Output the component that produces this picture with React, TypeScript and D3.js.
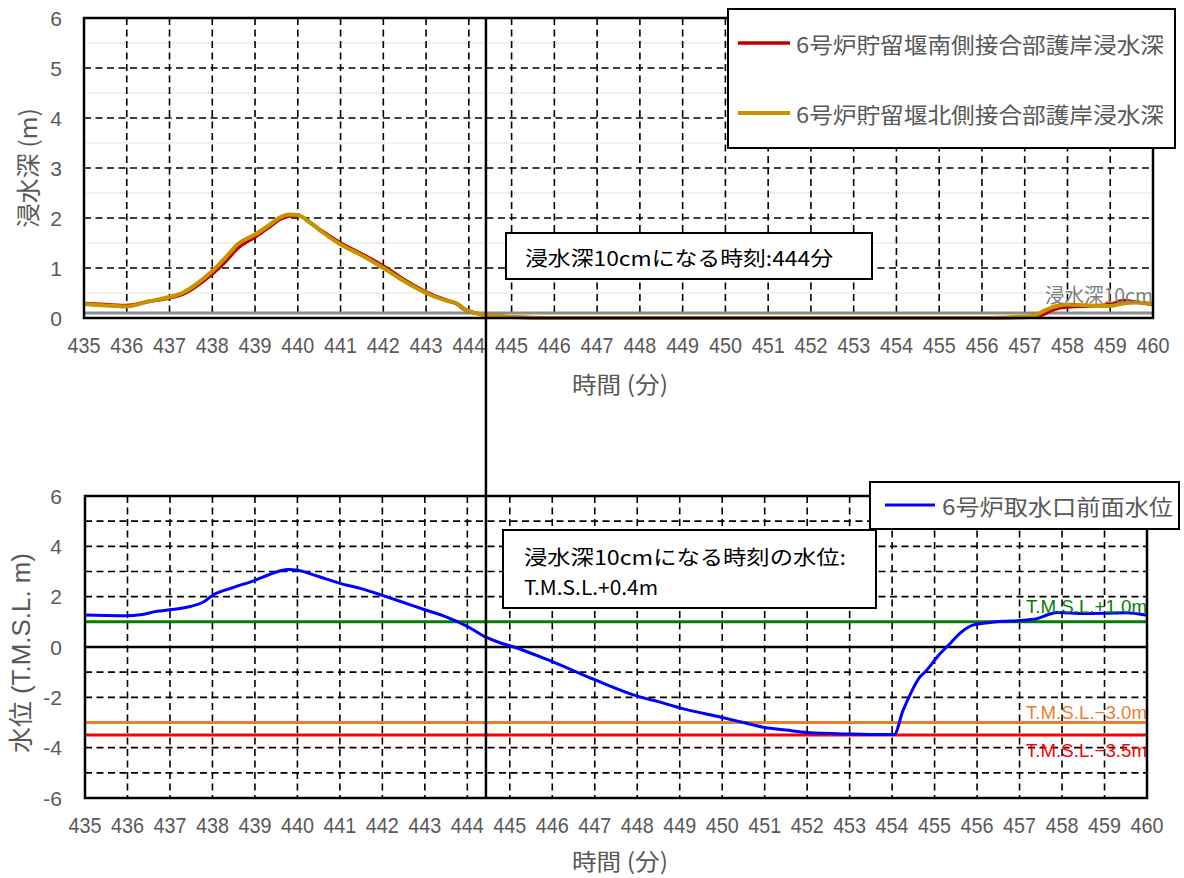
import * as d3 from "d3";

// top chart: flooding depth (m) at the two revetment junctions
const depthTime = [
  435, 435.5, 436, 436.5, 437, 437.3, 437.6, 438, 438.3, 438.6, 439, 439.3, 439.6, 439.8, 440,
  440.3, 440.6, 441, 441.5, 442, 442.5, 443, 443.5, 443.7, 443.9, 444.2, 444.5, 445, 446, 450,
  454, 456, 456.8, 457.2, 457.4, 457.6, 457.8, 458, 458.5, 459, 459.3, 459.6, 460,
];
const southDepth = [
  0.29, 0.27, 0.25, 0.33, 0.4, 0.47, 0.62, 0.88, 1.12, 1.4, 1.62, 1.8, 1.98, 2.04, 2.05,
  1.9, 1.72, 1.5, 1.28, 1.04, 0.76, 0.52, 0.35, 0.29, 0.17, 0.09, 0.05, 0.02, 0, 0,
  0, 0, 0.01, 0.02, 0.06, 0.14, 0.2, 0.22, 0.24, 0.27, 0.35, 0.32, 0.27,
];
const northDepth = [
  0.28, 0.25, 0.23, 0.33, 0.42, 0.5, 0.66, 0.94, 1.2, 1.48, 1.67, 1.84, 2.02, 2.07, 2.06,
  1.9, 1.7, 1.47, 1.25, 1.0, 0.73, 0.5, 0.34, 0.3, 0.18, 0.09, 0.05, 0.02, 0, 0,
  0, 0, 0.02, 0.04, 0.12, 0.2, 0.25, 0.27, 0.25, 0.24, 0.29, 0.31, 0.28,
];

// bottom chart: water level in front of the intake (T.M.S.L. m)
const levelTime = [
  435, 435.5, 436, 436.3, 436.7, 437, 437.5, 437.8, 438, 438.5, 439, 439.3, 439.6, 439.8, 440,
  440.5, 441, 441.5, 442, 442.5, 443, 443.5, 444, 444.4, 444.8, 445, 446, 447, 448, 448.6,
  449, 450, 450.5, 451, 451.5, 452, 453, 454.05, 454.25, 454.45, 454.65, 454.8, 455.1, 455.4,
  455.6, 455.9, 456.3, 456.6, 457, 457.4, 457.7, 457.9, 458.5, 459, 459.5, 460,
];
const intakeLevel = [
  1.27, 1.25, 1.24, 1.28, 1.42, 1.48, 1.62, 1.8, 2.05, 2.37, 2.65, 2.85, 3.03, 3.08, 3.05,
  2.8, 2.53, 2.32, 2.05, 1.77, 1.48, 1.2, 0.82, 0.42, 0.15, 0.05, -0.58, -1.3, -1.95, -2.22,
  -2.42, -2.8, -3.0, -3.2, -3.3, -3.4, -3.46, -3.48, -2.55, -1.8, -1.2, -0.95, -0.32, 0.2,
  0.55, 0.87, 0.97, 1.02, 1.05, 1.12, 1.3, 1.37, 1.33, 1.34, 1.36, 1.26,
];

const xTicks = d3.range(435, 461);
const depthTicks = [0, 1, 2, 3, 4, 5, 6];
const depthMinor = [0.5, 1.5, 2.5, 3.5, 4.5, 5.5];
const levelGrid = d3.range(-6, 7);
const levelTicks = [-6, -4, -2, 0, 2, 4, 6];

const thresholdDepth = 0.1;
const crossTime = 444.4;
const refLevels = [
  { v: 1.0, label: "T.M.S.L.+1.0m", color: "#008000", dy: -15 },
  { v: -3.0, label: "T.M.S.L.−3.0m", color: "#ED7D31", dy: -10 },
  { v: -3.5, label: "T.M.S.L.−3.5m", color: "#FF0000", dy: 15 },
];

const NUM = "'Liberation Sans', 'Noto Sans CJK JP', sans-serif";
const JP = "'Noto Sans CJK JP', sans-serif";
const GRAY = "#595959";
const FIT = "spacingAndGlyphs";

export default function App() {
  const xTop = d3.scaleLinear().domain([435, 460]).range([84, 1153]);
  const yTop = d3.scaleLinear().domain([0, 6]).range([318, 18]);
  const xBot = d3.scaleLinear().domain([435, 460]).range([85, 1147]);
  const yBot = d3.scaleLinear().domain([-6, 6]).range([798, 496]);

  const depthLine = (vals: number[]) =>
    d3
      .line<number>()
      .x((_, i) => xTop(depthTime[i]))
      .y((d) => yTop(d))
      .curve(d3.curveMonotoneX)(vals) ?? "";
  const levelLine =
    d3
      .line<number>()
      .x((_, i) => xBot(levelTime[i]))
      .y((d) => yBot(d))
      .curve(d3.curveMonotoneX)(intakeLevel) ?? "";

  const dash = "7,4.5";

  return (
    <svg width={1184} height={878} style={{ display: "block", position: "absolute", left: 0, top: 0 }}>
      <rect width={1184} height={878} fill="#fff" />

      {/* ---------- top chart ---------- */}
      {depthMinor.map((v) => (
        <line key={"m" + v} x1={xTop(435)} x2={xTop(460)} y1={yTop(v)} y2={yTop(v)}
          stroke="#c8c8c8" strokeWidth={1} strokeDasharray="1,1" />
      ))}
      {depthTicks.slice(1, -1).map((v) => (
        <line key={"h" + v} x1={xTop(435)} x2={xTop(460)} y1={yTop(v)} y2={yTop(v)}
          stroke="#000" strokeWidth={1.6} strokeDasharray={dash} />
      ))}
      {xTicks.slice(1, -1).map((t) => (
        <line key={"v" + t} x1={xTop(t)} x2={xTop(t)} y1={yTop(6)} y2={yTop(0)}
          stroke="#000" strokeWidth={1.6} strokeDasharray={dash} />
      ))}
      <line x1={xTop(435)} x2={xTop(460)} y1={yTop(thresholdDepth)} y2={yTop(thresholdDepth)}
        stroke="#8c8c8c" strokeWidth={3} />
      <path d={depthLine(southDepth)} fill="none" stroke="#C00000" strokeWidth={3.5} strokeLinejoin="round" />
      <path d={depthLine(northDepth)} fill="none" stroke="#C59400" strokeWidth={4} strokeLinejoin="round" />
      <rect x={xTop(435)} y={yTop(6)} width={xTop(460) - xTop(435)} height={yTop(0) - yTop(6)}
        fill="none" stroke="#000" strokeWidth={2.5} />
      <text x={xTop(460)} y={yTop(thresholdDepth) - 19} textAnchor="end" dominantBaseline="central"
        fontFamily={JP} fontSize={20} fill="#808080" textLength={108} lengthAdjust={FIT}>浸水深10cm</text>

      {depthTicks.map((v) => (
        <text key={"yt" + v} x={62} y={yTop(v)} textAnchor="end" dominantBaseline="central"
          fontFamily={NUM} fontSize={21} fill={GRAY}>{v}</text>
      ))}
      {xTicks.map((t) => (
        <text key={"xt" + t} x={xTop(t)} y={345} textAnchor="middle" dominantBaseline="central"
          fontFamily={NUM} fontSize={22} fill={GRAY} textLength={33} lengthAdjust={FIT}>{t}</text>
      ))}
      <text transform="translate(26,168) rotate(-90)" textAnchor="middle" dominantBaseline="central"
        fontFamily={JP} fontSize={24} fill={GRAY} textLength={120} lengthAdjust={FIT}>浸水深 (m)</text>
      <text x={620} y={383} textAnchor="middle" dominantBaseline="central"
        fontFamily={JP} fontSize={23} fill={GRAY} textLength={96} lengthAdjust={FIT}>時間 (分)</text>

      {/* legend top */}
      <rect x={728} y={9} width={447} height={139} fill="#fff" stroke="#000" strokeWidth={2} />
      <line x1={738} x2={790} y1={43} y2={43} stroke="#C00000" strokeWidth={3.5} />
      <text x={796} y={43} dominantBaseline="central" fontFamily={JP} fontSize={22} fill={GRAY}
        textLength={368} lengthAdjust={FIT}>6号炉貯留堰南側接合部護岸浸水深</text>
      <line x1={738} x2={790} y1={113} y2={113} stroke="#C59400" strokeWidth={4} />
      <text x={796} y={113} dominantBaseline="central" fontFamily={JP} fontSize={22} fill={GRAY}
        textLength={368} lengthAdjust={FIT}>6号炉貯留堰北側接合部護岸浸水深</text>

      {/* annotation top */}
      <rect x={506} y={233} width={366} height={46} fill="#fff" stroke="#000" strokeWidth={2} />
      <text x={525} y={257} dominantBaseline="central" fontFamily={JP} fontSize={20} fill="#000"
        textLength={308} lengthAdjust={FIT}>浸水深10cmになる時刻:444分</text>

      {/* ---------- bottom chart ---------- */}
      {levelGrid.slice(1, -1).filter((v) => v !== 0).map((v) => (
        <line key={"bh" + v} x1={xBot(435)} x2={xBot(460)} y1={yBot(v)} y2={yBot(v)}
          stroke="#000" strokeWidth={1.6} strokeDasharray={dash} />
      ))}
      {xTicks.slice(1, -1).map((t) => (
        <line key={"bv" + t} x1={xBot(t)} x2={xBot(t)} y1={yBot(6)} y2={yBot(-6)}
          stroke="#000" strokeWidth={1.6} strokeDasharray={dash} />
      ))}
      <line x1={xBot(435)} x2={xBot(460)} y1={yBot(0)} y2={yBot(0)} stroke="#000" strokeWidth={2.5} />
      {refLevels.map((r) => (
        <line key={"r" + r.v} x1={xBot(435)} x2={xBot(460)} y1={yBot(r.v)} y2={yBot(r.v)}
          stroke={r.color} strokeWidth={3} />
      ))}
      <path d={levelLine} fill="none" stroke="#0000FF" strokeWidth={3} strokeLinejoin="round" />
      {refLevels.map((r) => (
        <text key={"rl" + r.v} x={xBot(460)} y={yBot(r.v) + r.dy} textAnchor="end" dominantBaseline="central"
          fontFamily={NUM} fontSize={19} fill={r.color} textLength={121} lengthAdjust={FIT}>{r.label}</text>
      ))}
      <rect x={xBot(435)} y={yBot(6)} width={xBot(460) - xBot(435)} height={yBot(-6) - yBot(6)}
        fill="none" stroke="#000" strokeWidth={2.5} />

      {levelTicks.map((v) => (
        <text key={"byt" + v} x={62} y={yBot(v)} textAnchor="end" dominantBaseline="central"
          fontFamily={NUM} fontSize={21} fill={GRAY}>{v}</text>
      ))}
      {xTicks.map((t) => (
        <text key={"bxt" + t} x={xBot(t)} y={825} textAnchor="middle" dominantBaseline="central"
          fontFamily={NUM} fontSize={22} fill={GRAY} textLength={33} lengthAdjust={FIT}>{t}</text>
      ))}
      <text transform="translate(21,653) rotate(-90)" textAnchor="middle" dominantBaseline="central"
        fontFamily={NUM} fontSize={25} fill={GRAY} textLength={200} lengthAdjust={FIT}>水位 (T.M.S.L. m)</text>
      <text x={620} y={860} textAnchor="middle" dominantBaseline="central"
        fontFamily={JP} fontSize={23} fill={GRAY} textLength={96} lengthAdjust={FIT}>時間 (分)</text>

      {/* legend bottom */}
      <rect x={870} y={482} width={309} height={47} fill="#fff" stroke="#000" strokeWidth={2} />
      <line x1={885} x2={935} y1={505} y2={505} stroke="#0000FF" strokeWidth={3} />
      <text x={942} y={505} dominantBaseline="central" fontFamily={JP} fontSize={22} fill={GRAY}
        textLength={231} lengthAdjust={FIT}>6号炉取水口前面水位</text>

      {/* annotation bottom */}
      <rect x={503} y={530} width={373} height={78} fill="#fff" stroke="#000" strokeWidth={2} />
      <text x={524} y={556} dominantBaseline="central" fontFamily={JP} fontSize={20} fill="#000"
        textLength={322} lengthAdjust={FIT}>浸水深10cmになる時刻の水位:</text>
      <text x={524} y={586} dominantBaseline="central" fontFamily={JP} fontSize={20} fill="#000"
        textLength={134} lengthAdjust={FIT}>T.M.S.L.+0.4m</text>

      {/* time when depth reaches 10 cm, spanning both charts */}
      <line x1={xTop(crossTime)} x2={xTop(crossTime)} y1={yTop(6)} y2={yBot(-6)} stroke="#000" strokeWidth={2.5} />
    </svg>
  );
}
